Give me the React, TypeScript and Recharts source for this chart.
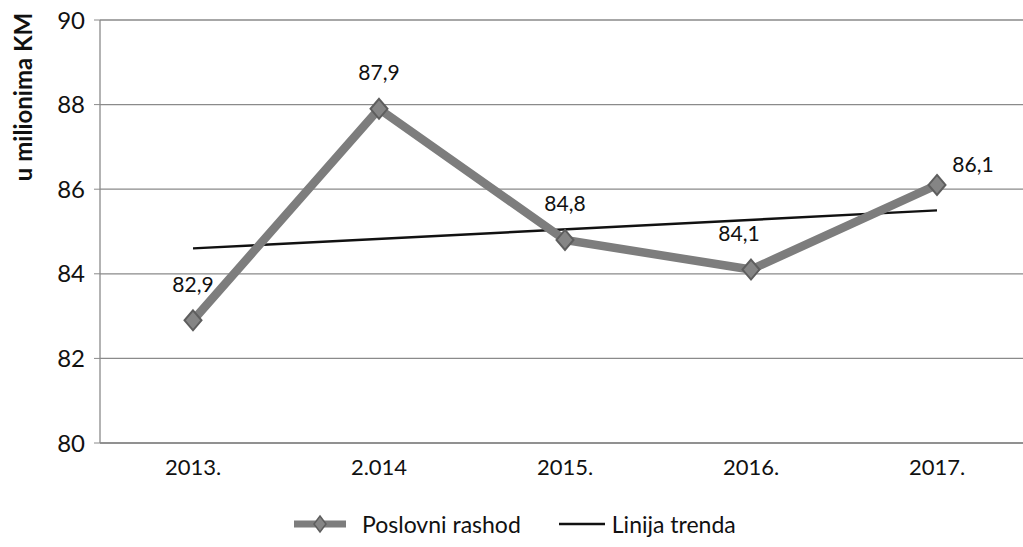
import React from "react";
import { LineChart, Line, XAxis, YAxis, CartesianGrid, LabelList } from "recharts";

const categories = ["2013.", "2.014", "2015.", "2016.", "2017."];
const poslovniRashod = [82.9, 87.9, 84.8, 84.1, 86.1];
const linijaTrenda: (number | null)[] = [84.6, null, null, null, 85.5];
const yTicks = [80, 82, 84, 86, 88, 90];

const data = categories.map((c, i) => ({
  cat: c,
  rashod: poslovniRashod[i],
  trend: linijaTrenda[i],
}));

const FONT = "Lato, 'Open Sans', sans-serif";
const GRAY = "#7d7d7d";

const Diamond = (props: any) => {
  const { cx, cy } = props;
  if (cx == null || cy == null) return null;
  const r = 10;
  return (
    <path
      d={`M${cx},${cy - r} L${cx + r * 0.85},${cy} L${cx},${cy + r} L${cx - r * 0.85},${cy} Z`}
      fill="#858585"
      stroke="#5e5e5e"
      strokeWidth={2}
    />
  );
};

const ValueLabel = (props: any) => {
  const { x, y, value, index } = props;
  let dx = 0;
  let dy = -37;
  if (index === 3) dx = -12;
  if (index === 4) {
    dx = 36;
    dy = -21;
  }
  return (
    <text
      x={x + dx}
      y={y + dy}
      textAnchor="middle"
      dominantBaseline="central"
      fontFamily={FONT}
      fontSize={21}
      fill="#111"
    >
      {String(value).replace(".", ",")}
    </text>
  );
};

export default function App() {
  return (
    <div
      style={{
        position: "absolute",
        left: 0,
        top: 0,
        width: 1023,
        height: 547,
        overflow: "hidden",
        background: "#fff",
      }}
    >
      <LineChart
        width={1030}
        height={547}
        data={data}
        margin={{ top: 20, right: 0, bottom: 0, left: 0 }}
      >
        <CartesianGrid vertical={false} stroke="#8a8a8a" strokeWidth={1.3} />
        <XAxis
          dataKey="cat"
          height={104}
          padding={{ left: 93, right: 93 }}
          axisLine={{ stroke: "#8a8a8a", strokeWidth: 1.3 }}
          tickLine={false}
          tick={{ fontFamily: FONT, fontSize: 22, fill: "#111" }}
          tickMargin={10}
        />
        <YAxis
          width={100}
          domain={[80, 90]}
          ticks={yTicks}
          interval={0}
          axisLine={{ stroke: "#8a8a8a", strokeWidth: 1.3 }}
          tickLine={{ stroke: "#8a8a8a" }}
          tickSize={6}
          tickMargin={9}
          tick={{ fontFamily: FONT, fontSize: 24, fill: "#111" }}
          label={(p: any) => (
            <text
              x={22}
              y={97}
              transform="rotate(-90 22 97)"
              textAnchor="middle"
              dominantBaseline="central"
              fontFamily={FONT}
              fontWeight="bold"
              fontSize={24}
              fill="#111"
            >
              u milionima KM
            </text>
          )}
        />
        <Line
          dataKey="trend"
          stroke="#111"
          strokeWidth={2.4}
          dot={false}
          connectNulls
          isAnimationActive={false}
        />
        <Line
          dataKey="rashod"
          stroke={GRAY}
          strokeWidth={8.5}
          dot={<Diamond />}
          isAnimationActive={false}
        >
          <LabelList dataKey="rashod" content={<ValueLabel />} />
        </Line>
      </LineChart>
      <div
        style={{
          position: "absolute",
          top: 509,
          left: 292,
          display: "flex",
          alignItems: "center",
          fontFamily: FONT,
          fontSize: 23,
          color: "#111",
          height: 30,
        }}
      >
        <svg width={56} height={20} style={{ marginRight: 14 }}>
          <line x1={2} y1={10} x2={54} y2={10} stroke={GRAY} strokeWidth={7} />
          <path d="M28,2 L34,10 L28,18 L22,10 Z" fill="#858585" stroke="#5e5e5e" strokeWidth={1.5} />
        </svg>
        <span style={{ marginRight: 36 }}>Poslovni rashod</span>
        <svg width={50} height={20} style={{ marginRight: 5 }}>
          <line x1={2} y1={10} x2={48} y2={10} stroke="#111" strokeWidth={2.5} />
        </svg>
        <span>Linija trenda</span>
      </div>
    </div>
  );
}
